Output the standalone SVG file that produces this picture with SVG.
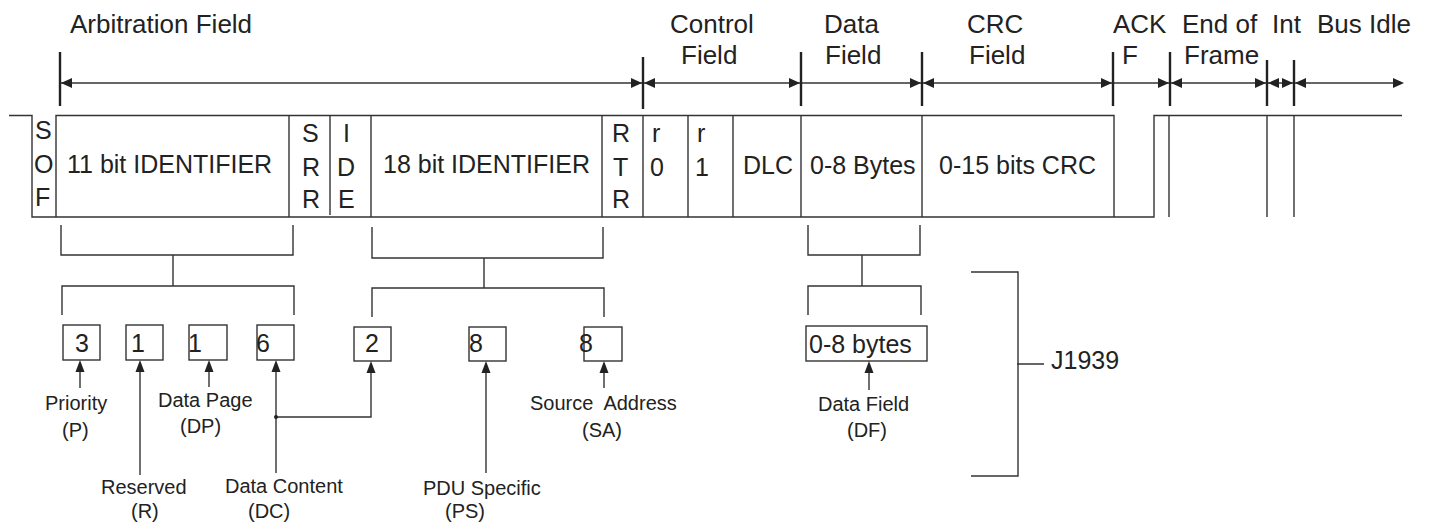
<svg xmlns="http://www.w3.org/2000/svg" width="1429" height="523" viewBox="0 0 1429 523">
<style>
  .ln{fill:none;stroke:#333;stroke-width:1.4}
  .tk{fill:none;stroke:#222;stroke-width:2.4}
  .ah{fill:#222}
  text{font-family:"Liberation Sans",Arial,sans-serif;fill:#222}
  .hd{font-size:26px}
  .rw{font-size:25px}
  .bx{font-size:25px}
  .lb{font-size:20px}
</style>
<defs>
  <path id="ar" d="M0,0 L-11,-5 L-11,5 Z" class="ah"/>
  <path id="al" d="M0,0 L11,-5 L11,5 Z" class="ah"/>
  <path id="au" d="M0,0 L-4.5,12 L4.5,12 Z" class="ah"/>
</defs>
<rect width="1429" height="523" fill="#fff"/>

<g id="headers">
  <text class="hd" x="70" y="33">Arbitration Field</text>
  <text class="hd" x="670" y="33">Control</text>
  <text class="hd" x="681" y="64">Field</text>
  <text class="hd" x="824" y="33">Data</text>
  <text class="hd" x="825" y="64">Field</text>
  <text class="hd" x="967" y="33">CRC</text>
  <text class="hd" x="969" y="64">Field</text>
  <text class="hd" x="1113" y="33">ACK</text>
  <text class="hd" x="1122" y="64">F</text>
  <text class="hd" x="1182" y="33">End of</text>
  <text class="hd" x="1184" y="64">Frame</text>
  <text class="hd" x="1272" y="33">Int</text>
  <text class="hd" x="1317" y="33">Bus Idle</text>
</g>

<g id="field-arrows">
  <line class="ln" x1="60" y1="83" x2="1400" y2="83"/>
  <line class="tk" x1="60" y1="52" x2="60" y2="106"/>
  <line class="tk" x1="643" y1="57" x2="643" y2="109"/>
  <line class="tk" x1="801" y1="52" x2="801" y2="106"/>
  <line class="tk" x1="922" y1="52" x2="922" y2="106"/>
  <line class="tk" x1="1113" y1="52" x2="1113" y2="106"/>
  <line class="tk" x1="1170" y1="52" x2="1170" y2="106"/>
  <line class="tk" x1="1267" y1="60" x2="1267" y2="106"/>
  <line class="tk" x1="1294" y1="60" x2="1294" y2="106"/>
  <use href="#al" x="61" y="83"/>
  <use href="#ar" x="642" y="83"/>
  <use href="#al" x="644" y="83"/>
  <use href="#ar" x="800" y="83"/>
  <use href="#ar" x="921" y="83"/>
  <use href="#al" x="923" y="83"/>
  <use href="#ar" x="1112" y="83"/>
  <use href="#ar" x="1169" y="83"/>
  <use href="#al" x="1171" y="83"/>
  <use href="#ar" x="1266" y="83"/>
  <use href="#al" x="1268" y="83"/>
  <use href="#ar" x="1293" y="83"/>
  <use href="#al" x="1295" y="83"/>
  <use href="#ar" x="1404" y="83"/>
</g>

<g id="frame">
  <path class="ln" d="M9,115.5 H32 V217 H1154 V115.5 H1402"/>
  <path class="ln" d="M56,217 V115.5 H1114 V217"/>
  <line class="ln" x1="289" y1="115.5" x2="289" y2="217"/>
  <line class="ln" x1="330" y1="115.5" x2="330" y2="215"/>
  <line class="ln" x1="371" y1="115.5" x2="371" y2="217"/>
  <line class="ln" x1="602" y1="115.5" x2="602" y2="217"/>
  <line class="ln" x1="643" y1="115.5" x2="643" y2="217"/>
  <line class="ln" x1="688" y1="115.5" x2="688" y2="217"/>
  <line class="ln" x1="733" y1="115.5" x2="733" y2="217"/>
  <line class="ln" x1="801" y1="115.5" x2="801" y2="217"/>
  <line class="ln" x1="922" y1="115.5" x2="922" y2="217"/>
  <line class="ln" x1="1169" y1="115.5" x2="1169" y2="217"/>
  <line class="ln" x1="1267" y1="115.5" x2="1267" y2="217"/>
  <line class="ln" x1="1294" y1="115.5" x2="1294" y2="217"/>
</g>

<g id="sof"><text class="rw" x="35" y="139">S</text><text class="rw" x="34" y="173">O</text><text class="rw" x="35" y="206">F</text></g>
<g id="id11"><text class="rw" x="67" y="173">11 bit IDENTIFIER</text></g>
<g id="srr"><text class="rw" x="302" y="142">S</text><text class="rw" x="302" y="176">R</text><text class="rw" x="302" y="208">R</text></g>
<g id="ide"><text class="rw" x="343" y="142">I</text><text class="rw" x="337" y="176">D</text><text class="rw" x="338" y="208">E</text></g>
<g id="id18"><text class="rw" x="383" y="173">18 bit IDENTIFIER</text></g>
<g id="rtr"><text class="rw" x="612" y="142">R</text><text class="rw" x="613" y="176">T</text><text class="rw" x="612" y="208">R</text></g>
<g id="r0"><text class="rw" x="652" y="142">r</text><text class="rw" x="650" y="176">0</text></g>
<g id="r1"><text class="rw" x="697" y="142">r</text><text class="rw" x="695" y="176">1</text></g>
<g id="dlc"><text class="rw" x="743" y="174">DLC</text></g>
<g id="data"><text class="rw" x="810" y="174">0-8 Bytes</text></g>
<g id="crc"><text class="rw" x="939" y="174">0-15 bits CRC</text></g>

<g id="brackets">
  <path class="ln" d="M61,225 V255 H293 V225 M173,255 V286 M62,315 V286 H294 V315"/>
  <path class="ln" d="M372,227 V258 H603 V227 M484,258 V288 M372,317 V288 H604 V317"/>
  <path class="ln" d="M808,225 V255 H920 V225 M862,255 V286 M808,315 V286 H921 V315"/>
  <path class="ln" d="M971,272 H1018 V476 H971 M1017,364 H1044"/>
</g>

<g id="box-p"><rect class="ln" x="63" y="325" width="37" height="35"/><text class="bx" x="82" y="352" text-anchor="middle">3</text></g>
<g id="box-r"><rect class="ln" x="126" y="325" width="37" height="35"/><text class="bx" x="131" y="352">1</text></g>
<g id="box-dp"><rect class="ln" x="189" y="325" width="38" height="35"/><text class="bx" x="188" y="352">1</text></g>
<g id="box-dc"><rect class="ln" x="257" y="325" width="37" height="35"/><text class="bx" x="256" y="352">6</text></g>
<g id="box-dc2"><rect class="ln" x="354" y="327" width="37" height="34"/><text class="bx" x="372" y="352" text-anchor="middle">2</text></g>
<g id="box-ps"><rect class="ln" x="469" y="327" width="37" height="34"/><text class="bx" x="469" y="352">8</text></g>
<g id="box-sa"><rect class="ln" x="584" y="327" width="38" height="34"/><text class="bx" x="579" y="352">8</text></g>
<g id="box-df"><rect class="ln" x="806" y="326" width="121" height="35"/><text class="bx" x="809" y="353">0-8 bytes</text></g>
<g id="j1939"><text class="bx" x="1051" y="369">J1939</text></g>

<g id="connectors">
  <line class="ln" x1="80" y1="388" x2="80" y2="366"/><use href="#au" x="80" y="360"/>
  <line class="ln" x1="140" y1="475" x2="140" y2="366"/><use href="#au" x="140" y="360"/>
  <line class="ln" x1="209" y1="387" x2="209" y2="366"/><use href="#au" x="209" y="360"/>
  <line class="ln" x1="276" y1="473" x2="276" y2="366"/><use href="#au" x="276" y="360"/>
  <path class="ln" d="M276,417 H371 V367"/><use href="#au" x="371" y="361"/>
  <circle cx="276" cy="417" r="2" fill="#222"/>
  <line class="ln" x1="486" y1="473" x2="486" y2="367"/><use href="#au" x="486" y="361"/>
  <line class="ln" x1="604" y1="388" x2="604" y2="367"/><use href="#au" x="604" y="361"/>
  <line class="ln" x1="869" y1="390" x2="869" y2="367"/><use href="#au" x="869" y="361"/>
</g>

<g id="labels">
  <text class="lb" x="45" y="410">Priority</text>
  <text class="lb" x="62" y="437">(P)</text>
  <text class="lb" x="101" y="494">Reserved</text>
  <text class="lb" x="131" y="518">(R)</text>
  <text class="lb" x="158" y="407">Data Page</text>
  <text class="lb" x="180" y="433">(DP)</text>
  <text class="lb" x="225" y="493">Data Content</text>
  <text class="lb" x="248" y="518">(DC)</text>
  <text class="lb" x="423" y="495">PDU Specific</text>
  <text class="lb" x="445" y="518">(PS)</text>
  <text class="lb" x="530" y="410" xml:space="preserve">Source  Address</text>
  <text class="lb" x="582" y="437">(SA)</text>
  <text class="lb" x="818" y="411">Data Field</text>
  <text class="lb" x="847" y="437">(DF)</text>
</g>
</svg>
